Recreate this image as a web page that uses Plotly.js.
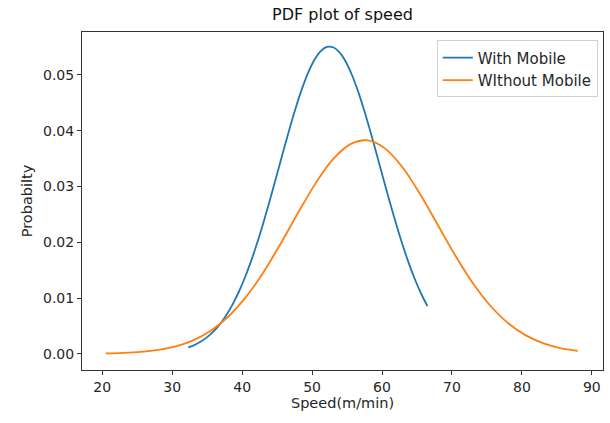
<!DOCTYPE html>
<html>
<head>
<meta charset="utf-8">
<script src="https://cdn.plot.ly/plotly-3.0.1.min.js"></script>
<style>html,body{margin:0;padding:0;background:#fff;}#chart{width:610px;height:423px;}</style>
</head>
<body>
<div id="chart"></div>
<script>
// Speed values (m/min) and density
const withMobileX = [32.3, 33.2, 34.1, 35.0, 35.9, 36.8, 37.7, 38.6, 39.5, 40.4, 41.3, 42.2, 43.1, 44.0, 44.9, 45.8, 46.7, 47.6, 48.5, 49.4, 50.3, 51.2, 52.1, 53.0, 53.9, 54.8, 55.7, 56.6, 57.5, 58.4, 59.3, 60.2, 61.1, 62.0, 62.9, 63.8, 64.7, 65.6, 66.5];
const withMobileY = [0.00114, 0.00159, 0.0022, 0.00299, 0.00401, 0.00528, 0.00686, 0.00877, 0.01104, 0.01369, 0.01671, 0.02008, 0.02378, 0.02771, 0.03181, 0.03595, 0.04001, 0.04385, 0.04732, 0.05029, 0.05262, 0.05422, 0.05502, 0.05497, 0.05408, 0.0524, 0.04999, 0.04696, 0.04344, 0.03957, 0.03549, 0.03135, 0.02727, 0.02335, 0.01969, 0.01635, 0.01337, 0.01077, 0.00854];
const withoutMobileX = [20.5, 23, 25.5, 28, 30.5, 33, 35.5, 38, 40.5, 43, 45.5, 48, 50.5, 53, 55.5, 58, 60.5, 63, 65.5, 68, 70.5, 73, 75.5, 78, 80.5, 83, 85.5, 88];
const withoutMobileY = [0.00007, 0.00016, 0.00034, 0.0007, 0.00134, 0.00242, 0.00413, 0.00665, 0.01012, 0.01455, 0.01974, 0.02528, 0.03056, 0.03489, 0.0376, 0.03826, 0.03675, 0.03332, 0.02852, 0.02305, 0.01759, 0.01267, 0.00862, 0.00553, 0.00335, 0.00192, 0.00104, 0.00053];
const seriesNames = ["With Mobile", "WIthout Mobile"];
const xTicks = [20, 30, 40, 50, 60, 70, 80, 90];
const yTicks = [0, 0.01, 0.02, 0.03, 0.04, 0.05];

const fam = "DejaVu Sans, sans-serif";
const tickFont = {family: fam, size: 14, color: "#262626"};
const labelFont = {family: fam, size: 14.5, color: "#262626"};
const traces = [
  {x: withMobileX, y: withMobileY, name: seriesNames[0], mode: "lines",
   line: {color: "#1f77b4", width: 1.8, shape: "spline", smoothing: 1}},
  {x: withoutMobileX, y: withoutMobileY, name: seriesNames[1], mode: "lines",
   line: {color: "#ff7f0e", width: 1.8, shape: "spline", smoothing: 1}}
];
const axisCommon = {
  showline: true, mirror: true, linecolor: "#333", linewidth: 1,
  showgrid: false, zeroline: false, ticks: "outside", ticklen: 4,
  tickcolor: "#333", tickwidth: 1, tickfont: tickFont
};
const layout = {
  width: 610, height: 423,
  margin: {l: 82, r: 7, t: 32, b: 53},
  paper_bgcolor: "#fff", plot_bgcolor: "#fff",
  font: tickFont,
  title: {text: "PDF plot of speed", font: {family: fam, size: 16, color: "#111"},
          x: 0.5, xref: "paper", y: 0.967, yanchor: "middle"},
  xaxis: Object.assign({}, axisCommon, {
    range: [17.1, 91.6], tickvals: xTicks, ticktext: xTicks.map(String),
    title: {text: "Speed(m/min)", font: labelFont, standoff: 4}
  }),
  yaxis: Object.assign({}, axisCommon, {
    range: [-0.0029, 0.0577], tickvals: yTicks, ticktext: yTicks.map(v => v.toFixed(2)),
    title: {text: "Probabilty", font: labelFont, standoff: 6}
  }),
  showlegend: true,
  legend: {x: 0.99, y: 0.975, xanchor: "right", yanchor: "top",
           bgcolor: "rgba(255,255,255,0.8)", bordercolor: "#d0d0d0", borderwidth: 1,
           font: {family: fam, size: 15, color: "#262626"}, tracegroupgap: 0}
};
Plotly.newPlot("chart", traces, layout, {displayModeBar: false, staticPlot: true});
</script>
</body>
</html>
